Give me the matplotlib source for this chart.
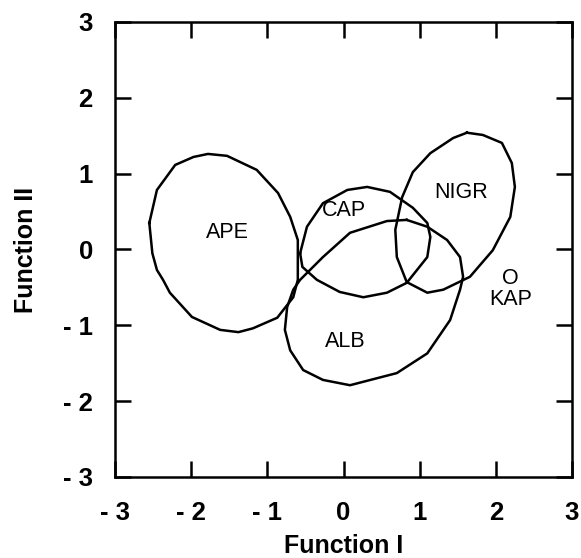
import matplotlib
matplotlib.use("Agg")
import matplotlib.pyplot as plt
import numpy as np

plt.rcParams['font.family'] = ['Liberation Sans', 'DejaVu Sans']

# outlines of the group ellipses (Function I, Function II)
ape_x = [-2.55, -2.45, -2.21, -1.97, -1.78, -1.53, -1.14, -0.86, -0.70, -0.60,
         -0.60, -0.66, -0.87, -1.19, -1.38, -1.62, -1.99, -2.28, -2.37, -2.45, -2.51]
ape_y = [0.35, 0.785, 1.115, 1.22, 1.26, 1.235, 1.05, 0.745, 0.43, 0.125,
         -0.40, -0.63, -0.90, -1.04, -1.09, -1.06, -0.89, -0.57, -0.40, -0.27, -0.05]

cap_x = [-0.57, -0.48, -0.27, 0.05, 0.31, 0.61, 0.91, 1.10, 1.14, 1.10,
         0.83, 0.57, 0.26, -0.05, -0.35, -0.54]
cap_y = [-0.05, 0.30, 0.61, 0.785, 0.825, 0.76, 0.55, 0.35, 0.165, -0.10,
         -0.44, -0.57, -0.63, -0.56, -0.40, -0.23]

nigr_x = [1.62, 1.83, 2.08, 2.21, 2.25, 2.19, 1.96, 1.66, 1.31, 1.10,
          0.83, 0.70, 0.68, 0.77, 0.91, 1.14, 1.44]
nigr_y = [1.54, 1.51, 1.405, 1.14, 0.825, 0.43, -0.01, -0.36, -0.53, -0.57,
          -0.43, -0.10, 0.26, 0.69, 1.02, 1.27, 1.47]

alb_x = [0.83, 1.10, 1.36, 1.53, 1.57, 1.53, 1.40, 1.10, 0.70, 0.085,
         -0.27, -0.53, -0.70, -0.77, -0.74, -0.66, -0.57, -0.27, 0.085, 0.57]
alb_y = [0.39, 0.30, 0.125, -0.10, -0.36, -0.53, -0.93, -1.37, -1.63, -1.79,
         -1.72, -1.59, -1.33, -1.06, -0.76, -0.53, -0.40, -0.10, 0.22, 0.375]

group_names = ['APE', 'CAP', 'NIGR', 'ALB', 'O\nKAP']
label_x = [-1.52, 0.0, 1.55, 0.02, 2.19]
label_y = [0.22, 0.52, 0.745, -1.22, -0.52]

ticks = [-3, -2, -1, 0, 1, 2, 3]
tick_labels = ['- 3', '- 2', '- 1', '0', '1', '2', '3']

fig = plt.figure(figsize=(5.81, 5.58), dpi=100)
ax = fig.add_axes([0.198, 0.1452, 0.7865, 0.8154])

for xs, ys in [(ape_x, ape_y), (cap_x, cap_y), (nigr_x, nigr_y), (alb_x, alb_y)]:
    ax.plot(xs + xs[:1], ys + ys[:1], color='black', lw=1.8)

for name, tx, ty in zip(group_names, label_x, label_y):
    ax.text(tx, ty, name, ha='center', va='center', fontsize=15.5, linespacing=1.0)

ax.set_xlim(-3, 3)
ax.set_ylim(-3, 3)
ax.set_xticks(ticks)
ax.set_yticks(ticks)
ax.set_xticklabels(tick_labels, fontsize=18.5, fontweight='bold')
ax.set_yticklabels(tick_labels, fontsize=18.5, fontweight='bold')
ax.tick_params(axis='both', direction='in', length=11.5, width=1.8,
               top=True, right=True)
ax.tick_params(axis='x', pad=17)
ax.tick_params(axis='y', pad=16)
for sp in ax.spines.values():
    sp.set_linewidth(1.8)

ax.set_xlabel('Function I', fontsize=18, fontweight='bold', va='baseline')
ax.set_ylabel('Function II', fontsize=18, fontweight='bold', va='center')
ax.xaxis.set_label_coords(0.5, -0.168)
ax.yaxis.set_label_coords(-0.195, 0.5)

fig.savefig('out.png', dpi=100)
